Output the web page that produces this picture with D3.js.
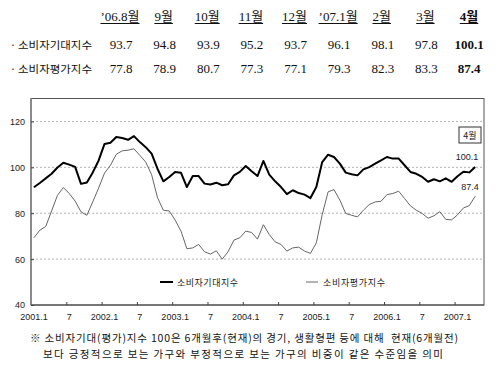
<!DOCTYPE html>
<html><head><meta charset="utf-8">
<script src="https://cdn.jsdelivr.net/npm/d3@7/dist/d3.min.js"></script>
<style>body{margin:0;background:#fff}svg{display:block}</style>
</head><body><svg id="c" width="500" height="372"></svg>
<script>
// ---- data ----
const tableHeaders = ["’06.8월","9월","10월","11월","12월","’07.1월","2월","3월","4월"];
const seriesNames = ["소비자기대지수","소비자평가지수"];
// monthly, 2001.1 .. 2007.4
const expectIndex = [
 91.3,93.2,95.2,97.2,99.9,102.0,101.2,100.2,92.8,93.4,97.8,103.0,
 110.2,110.7,113.2,112.8,112.0,113.6,111.0,108.8,106.0,99.4,93.9,95.8,
 98.0,97.6,91.4,96.2,96.2,92.9,92.5,93.3,92.2,92.6,96.5,98.0,
 100.6,98.3,96.2,102.8,96.8,93.9,91.4,88.3,90.0,88.8,88.1,86.6,
 91.4,102.3,105.5,104.5,101.6,97.7,97.0,96.5,99.1,100.1,101.6,103.0,
 104.5,103.8,103.8,100.9,98.0,97.2,95.8,93.7,94.8,93.9,95.2,93.7,
 96.1,98.1,97.8,100.1];
const evalIndex = [
 69.3,72.6,74.2,81.0,87.8,91.2,88.6,85.3,80.6,79.1,85.0,91.0,
 97.5,100.9,105.7,107.2,107.5,108.1,105.2,102.3,96.8,86.8,81.3,81.0,
 77.0,72.2,64.5,64.9,66.4,63.2,62.2,63.6,60.0,63.2,68.3,69.3,
 72.2,71.6,68.7,75.0,70.7,67.5,66.4,63.5,64.9,65.2,63.5,62.5,
 67.1,79.4,89.3,90.3,85.7,79.9,79.1,78.4,81.3,83.8,84.9,85.2,
 88.1,88.6,89.6,86.4,83.2,81.3,79.9,77.8,78.9,80.7,77.3,77.1,
 79.3,82.3,83.3,87.4];
const xTickLabels = ["2001.1","7","2002.1","7","2003.1","7","2004.1","7","2005.1","7","2006.1","7","2007.1"];
const yTicks = [40,60,80,100,120];
const gridValues = [60,80,100,120];
const lastMonthLabel = "4월";
const footnote = [
 "※ 소비자기대(평가)지수 100은 6개월후(현재)의 경기, 생활형편 등에 대해  현재(6개월전)",
 "보다 긍정적으로 보는 가구와 부정적으로 보는 가구의 비중이 같은 수준임을 의미"
];

// ---- drawing ----
const svg = d3.select("#c");
const KR = "'Noto Sans CJK KR', sans-serif";
const SERIF = "'Liberation Serif', 'Noto Sans CJK KR', serif";
const SANS = "'Liberation Sans', Arial, sans-serif";

// table
const nCols = tableHeaders.length;
const colX = d3.scalePoint().domain(d3.range(nCols)).range([120, 469]);
const hdr = svg.append("g");
tableHeaders.forEach((h, i) => {
  const t = hdr.append("text").attr("x", colX(i)).attr("y", 21)
    .attr("text-anchor", "middle").attr("font-family", SERIF)
    .attr("font-size", 13).attr("font-weight", i === nCols - 1 ? "bold" : "normal")
    .attr("fill", "#111").text(h);
  const bb = t.node().getBBox();
  hdr.append("line").attr("x1", bb.x).attr("x2", bb.x + bb.width)
    .attr("y1", 23.5).attr("y2", 23.5).attr("stroke", "#111").attr("stroke-width", 1);
});
const rows = [expectIndex.slice(-nCols), evalIndex.slice(-nCols)];
const rowY = [49, 73];
rows.forEach((vals, r) => {
  svg.append("text").attr("x", 10).attr("y", rowY[r] - 0.5).attr("font-family", KR)
    .attr("font-size", 10.5).attr("fill", "#111").text("·");
  svg.append("text").attr("x", 18).attr("y", rowY[r] - 0.5).attr("font-family", KR)
    .attr("font-size", 10.5).attr("fill", "#111")
    .attr("textLength", 74).attr("lengthAdjust", "spacingAndGlyphs").text(seriesNames[r]);
  vals.forEach((v, i) => {
    svg.append("text").attr("x", colX(i) + (i === nCols - 1 ? 0 : 1)).attr("y", rowY[r])
      .attr("text-anchor", "middle").attr("font-family", SERIF).attr("font-size", 13)
      .attr("font-weight", i === nCols - 1 ? "bold" : "normal").attr("fill", "#111")
      .text(v.toFixed(1));
  });
});

// chart
const L = 31, R = 484, T = 98.5, B = 305;
const nCat = expectIndex.length + 1;
const x = d3.scaleBand().domain(d3.range(nCat)).range([L, R]);
const xb = d3.scaleLinear().domain([0, nCat]).range([L, R]);
const cx = i => x(i) + x.bandwidth() / 2;
const y = d3.scaleLinear().domain([40, 130]).range([B, T]);

// grid
svg.append("g").selectAll("line").data(gridValues).join("line")
  .attr("x1", L + 1).attr("x2", R).attr("y1", d => y(d)).attr("y2", d => y(d))
  .attr("stroke", "#b4b4b4").attr("stroke-width", 1).attr("stroke-dasharray", "2,2");

// frame
svg.append("rect").attr("x", L).attr("y", T).attr("width", R - L).attr("height", B - T)
  .attr("fill", "none").attr("stroke", "#555").attr("stroke-width", 1);
svg.append("line").attr("x1", L).attr("x2", L).attr("y1", T).attr("y2", B)
  .attr("stroke", "#8a8a8a").attr("stroke-width", 2);
svg.append("line").attr("x1", L).attr("x2", R).attr("y1", B).attr("y2", B)
  .attr("stroke", "#444").attr("stroke-width", 1);

// y axis
const ya = svg.append("g").attr("transform", `translate(${L},0)`)
  .call(d3.axisLeft(y).tickValues(yTicks).tickSize(-3).tickPadding(6));
ya.select(".domain").remove();
ya.selectAll("line").attr("stroke", "#444");
ya.selectAll("text").attr("font-family", SANS).attr("font-size", 9).attr("fill", "#222");

// x axis: tick marks at category boundaries
const tickIdx = d3.range(0, 73, 6);
const xt = svg.append("g").attr("transform", `translate(0,${B})`)
  .call(d3.axisBottom(xb).tickValues(tickIdx.slice(1)).tickSize(-3).tickFormat(""));
xt.select(".domain").remove();
xt.selectAll("line").attr("stroke", "#444");
// labels at category centers
const xl = svg.append("g").attr("transform", `translate(0,${B})`)
  .call(d3.axisBottom(x).tickValues(tickIdx).tickSize(0).tickPadding(8.5)
    .tickFormat((d, k) => xTickLabels[k]));
xl.select(".domain").remove();
xl.selectAll("text").attr("font-family", SANS).attr("font-size", 9).attr("fill", "#222");

// lines
const line = d3.line().x((d, i) => cx(i)).y(d => y(d));
svg.append("path").datum(evalIndex).attr("d", line).attr("fill", "none")
  .attr("stroke", "#666").attr("stroke-width", 1);
svg.append("path").datum(expectIndex).attr("d", line).attr("fill", "none")
  .attr("stroke", "#000").attr("stroke-width", 2).attr("stroke-linejoin", "round");

// end labels
svg.append("text").attr("x", 467).attr("y", 160).attr("text-anchor", "middle")
  .attr("font-family", SANS).attr("font-size", 9).attr("fill", "#222")
  .text(expectIndex[expectIndex.length - 1].toFixed(1));
svg.append("text").attr("x", 470).attr("y", 190).attr("text-anchor", "middle")
  .attr("font-family", SANS).attr("font-size", 9).attr("fill", "#222")
  .text(evalIndex[evalIndex.length - 1].toFixed(1));
svg.append("rect").attr("x", 459).attr("y", 127).attr("width", 22).attr("height", 16)
  .attr("fill", "#fff").attr("stroke", "#333").attr("stroke-width", 1);
svg.append("text").attr("x", 470).attr("y", 138.5).attr("text-anchor", "middle")
  .attr("font-family", KR).attr("font-size", 9).attr("fill", "#222").text(lastMonthLabel);

// legend
const leg = [
  {x1: 160, x2: 173, tx: 177, tw: 61, stroke: "#000", sw: 2},
  {x1: 306, x2: 318, tx: 323, tw: 62, stroke: "#666", sw: 1}
];
leg.forEach((g, k) => {
  svg.append("line").attr("x1", g.x1).attr("x2", g.x2).attr("y1", 282).attr("y2", 282)
    .attr("stroke", g.stroke).attr("stroke-width", g.sw);
  svg.append("text").attr("x", g.tx).attr("y", 285.5).attr("font-family", KR)
    .attr("font-size", 9).attr("fill", "#222").attr("textLength", g.tw)
    .attr("lengthAdjust", "spacing").text(seriesNames[k]);
});

// footnote
const fnPos = [{x: 30, y: 342, w: 428}, {x: 43, y: 357.5, w: 400}];
footnote.forEach((s, k) => {
  svg.append("text").attr("x", fnPos[k].x).attr("y", fnPos[k].y)
    .attr("font-family", KR).attr("font-size", 10.5).attr("fill", "#111")
    .attr("textLength", fnPos[k].w).attr("lengthAdjust", "spacing")
    .attr("xml:space", "preserve").style("white-space", "pre").text(s);
});
</script>
</body></html>
